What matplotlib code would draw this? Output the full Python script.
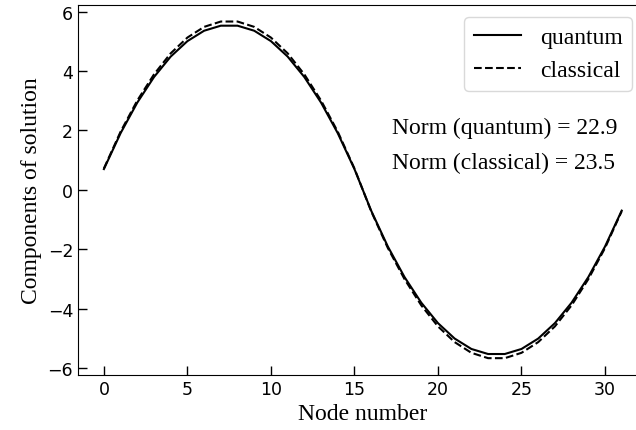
import matplotlib
matplotlib.use("Agg")
import matplotlib.pyplot as plt
import numpy as np

nodes = np.arange(32)

quantum = [0.70, 1.91, 2.94, 3.80, 4.49, 5.01, 5.36, 5.53,
           5.53, 5.36, 5.01, 4.49, 3.80, 2.94, 1.91, 0.70,
           -0.70, -1.91, -2.94, -3.80, -4.49, -5.01, -5.36, -5.53,
           -5.53, -5.36, -5.01, -4.49, -3.80, -2.94, -1.91, -0.70]

classical = [0.72, 1.96, 3.01, 3.89, 4.60, 5.13, 5.49, 5.67,
             5.67, 5.49, 5.13, 4.60, 3.89, 3.01, 1.96, 0.72,
             -0.72, -1.96, -3.01, -3.89, -4.60, -5.13, -5.49, -5.67,
             -5.67, -5.49, -5.13, -4.60, -3.89, -3.01, -1.96, -0.72]

norm_quantum = 22.9
norm_classical = 23.5

serif = "Liberation Serif"


def main():
    fig = plt.figure(figsize=(6.36, 4.31), dpi=100)
    W, H = 636, 431
    left, right, top, bottom = 78, 647.6, 5.7, 376
    ax = fig.add_axes([left / W, 1 - bottom / H, (right - left) / W, (bottom - top) / H])

    ax.plot(nodes, quantum, color="black", lw=1.5, label="quantum",
            solid_joinstyle="round")
    ax.plot(nodes, classical, color="black", lw=1.5, ls="--", label="classical")

    ax.spines["right"].set_visible(False)
    ax.set_xticks([0, 5, 10, 15, 20, 25, 30])
    ax.set_yticks([-6, -4, -2, 0, 2, 4, 6])
    ax.tick_params(direction="in", length=6.5, width=1, labelsize=12.5)
    ax.set_xlabel("Node number", family=serif, fontsize=17)
    ax.set_ylabel("Components of solution", family=serif, fontsize=17)

    leg = ax.legend(loc="upper right", bbox_to_anchor=(632 / W, 1 - 18 / H),
                    bbox_transform=fig.transFigure, borderaxespad=0,
                    prop={"family": serif, "size": 17}, fancybox=True)
    leg.get_frame().set_edgecolor("#d0d0d0")

    ax.text((392 - left) / (right - left), (bottom - 128) / (bottom - top),
            f"Norm (quantum) = {norm_quantum}", transform=ax.transAxes,
            family=serif, fontsize=17, ha="left", va="center")
    ax.text((392 - left) / (right - left), (bottom - 163) / (bottom - top),
            f"Norm (classical) = {norm_classical}", transform=ax.transAxes,
            family=serif, fontsize=17, ha="left", va="center")

    fig.savefig("out.png", dpi=100)


if __name__ == "__main__":
    main()
